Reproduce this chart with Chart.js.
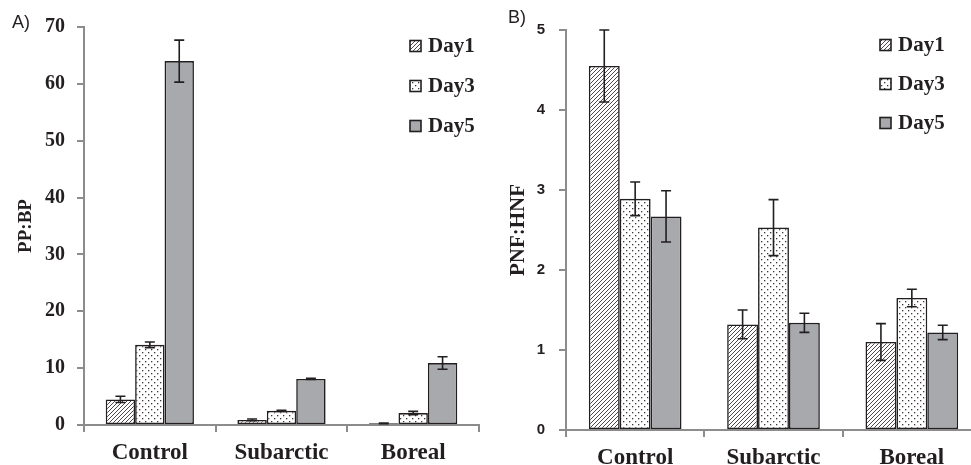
<!DOCTYPE html>
<html><head><meta charset="utf-8">
<script src="https://cdn.jsdelivr.net/npm/chart.js@4/dist/chart.umd.min.js"></script>
<style>
html,body{margin:0;padding:0;background:#fff;overflow:hidden;width:971px;height:465px;position:relative;}
#ca{position:absolute;left:0;top:0;}
#cb{position:absolute;left:490px;top:0;}
.lab{position:absolute;font-family:"Liberation Sans",Arial,sans-serif;font-size:18px;color:#231f20;line-height:1;}
</style></head>
<body>
<canvas id="ca" width="490" height="465"></canvas>
<canvas id="cb" width="491" height="465"></canvas>
<div class="lab" style="left:12px;top:13px">A)</div>
<div class="lab" style="left:508px;top:8px">B)</div>
<script>
// ---- data ----
const categories = ['Control', 'Subarctic', 'Boreal'];
const seriesLabels = ['Day1', 'Day3', 'Day5'];
// Panel A: PP:BP
const ppbpDay1 = [4.5, 0.9, 0.3];
const ppbpDay3 = [14.1, 2.5, 2.1];
const ppbpDay5 = [64.0, 8.1, 10.9];
const ppbpErr1 = [0.55, 0.15, 0.05];
const ppbpErr3 = [0.5, 0.1, 0.3];
const ppbpErr5 = [3.7, 0.1, 1.1];
const ppbpMax = 70, ppbpStep = 10;
// Panel B: PNF:HNF
const pnfDay1 = [4.55, 1.32, 1.10];
const pnfDay3 = [2.89, 2.53, 1.65];
const pnfDay5 = [2.67, 1.34, 1.22];
const pnfErr1 = [0.45, 0.18, 0.23];
const pnfErr3 = [0.21, 0.35, 0.11];
const pnfErr5 = [0.32, 0.12, 0.09];
const pnfMax = 5, pnfStep = 1;

// ---- styles ----
const INK = '#231f20';
const AXIS = '#8c8c8c';
const GREY = '#a7a9ac';

function hatchPattern() {
  const c = document.createElement('canvas'); c.width = 4; c.height = 4;
  const g = c.getContext('2d');
  g.fillStyle = '#fff'; g.fillRect(0, 0, 4, 4);
  g.strokeStyle = '#3a3637'; g.lineWidth = 0.9;
  g.beginPath();
  g.moveTo(-1, 5); g.lineTo(5, -1);
  g.moveTo(-1, 1); g.lineTo(1, -1);
  g.moveTo(3, 5); g.lineTo(5, 3);
  g.stroke();
  return g.createPattern(c, 'repeat');
}
function dotPattern() {
  const c = document.createElement('canvas'); c.width = 6; c.height = 6;
  const g = c.getContext('2d');
  g.fillStyle = '#fff'; g.fillRect(0, 0, 6, 6);
  g.fillStyle = '#3a3637';
  g.fillRect(1, 1, 1.3, 1.3);
  g.fillRect(4, 4, 1.3, 1.3);
  return g.createPattern(c, 'repeat');
}
const fills = [hatchPattern(), dotPattern(), GREY];

const errorBars = {
  id: 'errorBars',
  afterDatasetsDraw(chart) {
    const ctx = chart.ctx, y = chart.scales.y;
    chart.data.datasets.forEach((ds, i) => {
      const meta = chart.getDatasetMeta(i);
      meta.data.forEach((bar, j) => {
        const v = ds.data[j], e = ds.errors[j];
        const t = y.getPixelForValue(v + e), b = y.getPixelForValue(v - e);
        ctx.save();
        ctx.strokeStyle = INK; ctx.lineWidth = 1.6;
        ctx.beginPath();
        ctx.moveTo(bar.x, t); ctx.lineTo(bar.x, b);
        ctx.moveTo(bar.x - 5, t); ctx.lineTo(bar.x + 5, t);
        ctx.moveTo(bar.x - 5, b); ctx.lineTo(bar.x + 5, b);
        ctx.stroke();
        ctx.restore();
      });
    });
  }
};

const boxLegend = {
  id: 'boxLegend',
  afterDraw(chart, args, opts) {
    const ctx = chart.ctx;
    chart.data.datasets.forEach((ds, i) => {
      const cy = opts.y0 + i * opts.gap;
      ctx.save();
      ctx.fillStyle = ds.backgroundColor;
      ctx.fillRect(opts.x, cy - 5.5, 11, 11);
      ctx.strokeStyle = INK; ctx.lineWidth = 1.6;
      ctx.strokeRect(opts.x, cy - 5.5, 11, 11);
      ctx.fillStyle = INK;
      ctx.font = 'bold 21px "Liberation Serif", "Times New Roman", serif';
      ctx.textBaseline = 'middle';
      ctx.fillText(ds.label, opts.x + 18, cy + 1);
      ctx.restore();
    });
  }
};

function makeDatasets(vals, errs) {
  return seriesLabels.map((lab, i) => ({
    label: lab,
    data: vals[i],
    errors: errs[i],
    backgroundColor: fills[i],
    borderColor: INK,
    borderWidth: 1.6,
    borderSkipped: false,
    categoryPercentage: 0.67,
    barPercentage: 1.0
  }));
}

function makeChart(id, cfg) {
  const serifBold = { family: '"Liberation Serif", "Times New Roman", serif', weight: 'bold' };
  return new Chart(document.getElementById(id), {
    type: 'bar',
    data: { labels: categories, datasets: makeDatasets(cfg.vals, cfg.errs) },
    options: {
      responsive: false,
      animation: false,
      layout: { padding: cfg.padding },
      plugins: {
        legend: { display: false },
        tooltip: { enabled: false },
        boxLegend: cfg.legend
      },
      scales: {
        x: {
          grid: { display: true, drawOnChartArea: false, drawTicks: true, tickLength: 7, color: AXIS, lineWidth: 2, offset: true },
          border: { display: true, color: AXIS, width: 2 },
          ticks: { font: Object.assign({ size: 23 }, serifBold), color: INK, padding: cfg.xPad },
          afterFit(s) { s.height = cfg.xHeight; }
        },
        y: {
          min: 0, max: cfg.max,
          ticks: { stepSize: cfg.step, font: cfg.yFont, color: INK, padding: cfg.yPad },
          grid: { display: true, drawOnChartArea: false, drawTicks: true, tickLength: 7, color: AXIS, lineWidth: 2 },
          border: { display: true, color: AXIS, width: 2 },
          title: { display: true, text: cfg.title, color: INK, font: Object.assign({ size: cfg.titleSize }, serifBold), padding: { top: cfg.titlePad, bottom: 0 } },
          afterFit(s) { s.width = cfg.yWidth; }
        }
      }
    },
    plugins: [errorBars, boxLegend]
  });
}

makeChart('ca', {
  vals: [ppbpDay1, ppbpDay3, ppbpDay5],
  errs: [ppbpErr1, ppbpErr3, ppbpErr5],
  max: ppbpMax, step: ppbpStep,
  title: 'PP:BP', titleSize: 19, titlePad: 15,
  padding: { left: 0, top: 27, right: 11, bottom: 0 },
  xHeight: 40, xPad: 7, yWidth: 84, yPad: 12,
  yFont: { family: '"Liberation Serif", "Times New Roman", serif', weight: 'bold', size: 20 },
  legend: { x: 410, y0: 46, gap: 40 }
});

makeChart('cb', {
  vals: [pnfDay1, pnfDay3, pnfDay5],
  errs: [pnfErr1, pnfErr3, pnfErr5],
  max: pnfMax, step: pnfStep,
  title: 'PNF:HNF', titleSize: 21, titlePad: 16,
  padding: { left: 0, top: 30, right: 0, bottom: 0 },
  xHeight: 35, xPad: 7, yWidth: 76, yPad: 14,
  yFont: { family: '"Liberation Sans", Arial, sans-serif', weight: 'bold', size: 15 },
  legend: { x: 390, y0: 45, gap: 39 }
});
</script>
</body></html>
